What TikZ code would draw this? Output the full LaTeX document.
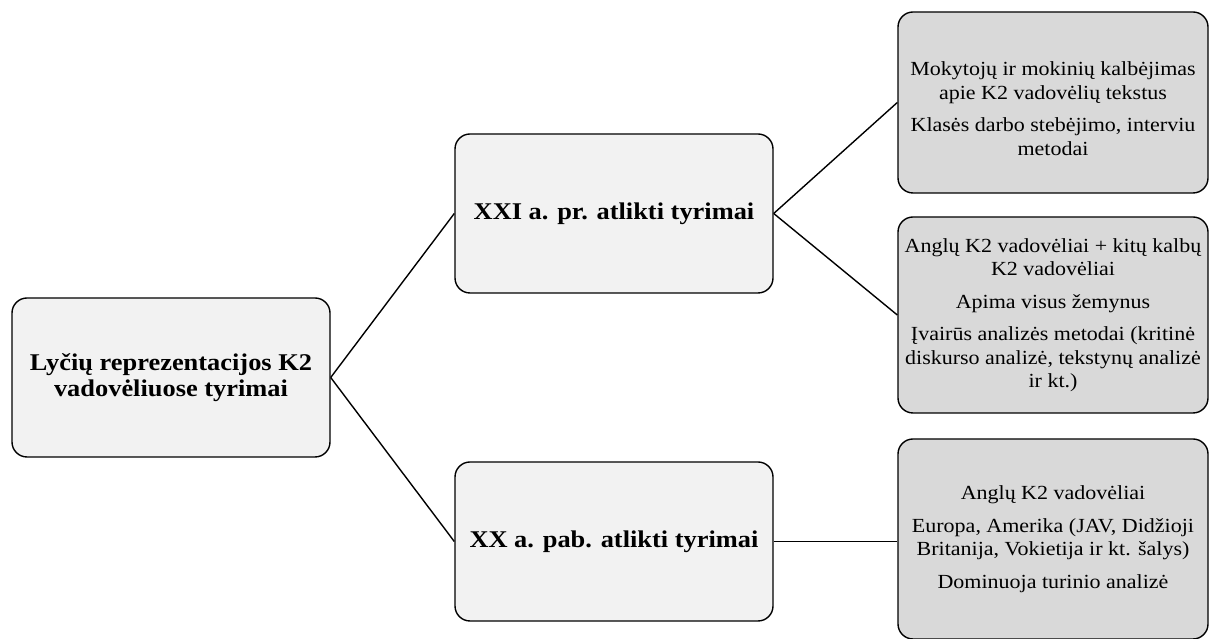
\documentclass[tikz,border=0pt]{standalone}
\usepackage{fontspec}
\setmainfont[FakeStretch=1.1]{Liberation Serif}
\begin{document}
\begin{tikzpicture}[x=1pt,y=1pt,
  box/.style={draw=black, line width=1.4pt, rounded corners=15pt, align=center, inner sep=0pt},
  lbox/.style={box, fill=boxlight, font=\fontsize{24}{26}\selectfont\bfseries},
  dbox/.style={box, fill=boxdark, font=\fontsize{20}{23.5}\selectfont},
  conn/.style={draw=black, line width=1.4pt}]
\definecolor{boxlight}{HTML}{F2F2F2}
\definecolor{boxdark}{HTML}{D9D9D9}
\useasboundingbox (0,0) rectangle (1210,639);
\node[lbox, minimum width=318, minimum height=159] (root) at (171,261.5) {Lyčių reprezentacijos K2\\vadovėliuose tyrimai};
\node[lbox, minimum width=318, minimum height=159] (xxi) at (614,425.5) {XXI a. pr. atlikti tyrimai};
\node[lbox, minimum width=318, minimum height=159] (xx) at (614,97.5) {XX a. pab. atlikti tyrimai};
\node[dbox, minimum width=310, minimum height=181] (r1) at (1053,536.5) {\rule{0pt}{26pt}Mokytojų ir mokinių kalbėjimas\\apie K2 vadovėlių tekstus\\[9pt]Klasės darbo stebėjimo, interviu\\metodai};
\node[dbox, minimum width=310, minimum height=196] (r2) at (1053,324) {Anglų K2 vadovėliai + kitų kalbų\\K2 vadovėliai\\[9pt]Apima visus žemynus\\[9pt]Įvairūs analizės metodai (kritinė\\diskurso analizė, tekstynų analizė\\ir kt.)};
\node[dbox, minimum width=310, minimum height=200] (r3) at (1053,100) {Anglų K2 vadovėliai\\[9pt]Europa, Amerika (JAV, Didžioji\\Britanija, Vokietija ir kt. šalys)\\[9pt]Dominuoja turinio analizė};
\draw[conn] (root.east) -- (xxi.west);
\draw[conn] (root.east) -- (xx.west);
\draw[conn] (xxi.east) -- (r1.west);
\draw[conn] (xxi.east) -- (r2.west);
\draw[conn] (xx.east) -- (xx.east -| r3.west);
\end{tikzpicture}
\end{document}
